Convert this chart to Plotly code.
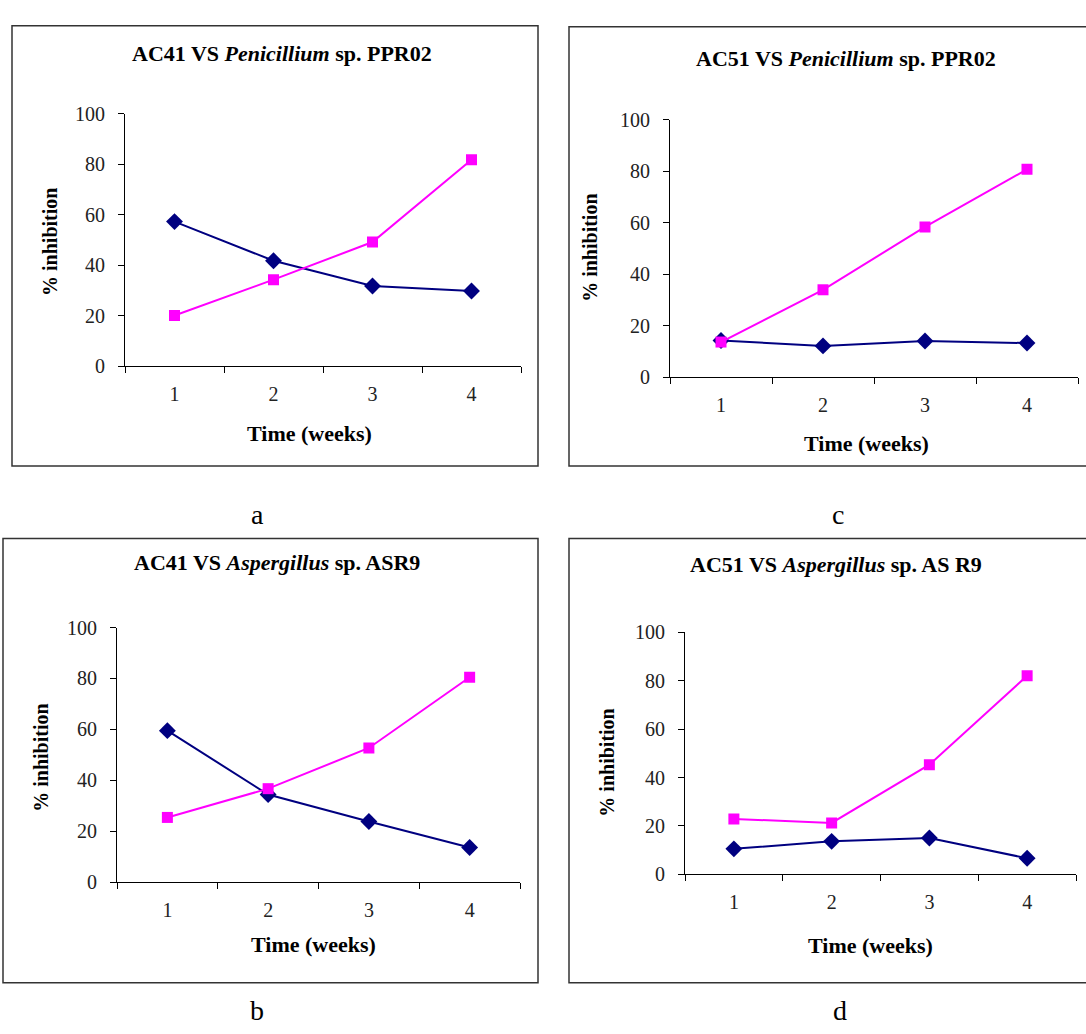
import plotly.graph_objects as go

# ---------------- data ----------------
weeks = ["1", "2", "3", "4"]

a_blue = [57.3, 41.8, 31.8, 29.8]
a_pink = [20.1, 34.3, 49.2, 81.8]

b_blue = [59.5, 34.4, 23.8, 13.6]
b_pink = [25.4, 36.7, 52.7, 80.5]

c_blue = [14.2, 12.1, 14.0, 13.2]
c_pink = [13.6, 33.9, 58.3, 80.7]

d_blue = [10.5, 13.6, 15.0, 6.6]
d_pink = [22.9, 21.2, 45.3, 82.1]

titles = {
    "a": "<b>AC41 VS <i>Penicillium</i> sp. PPR02</b>",
    "b": "<b>AC41 VS <i>Aspergillus</i> sp. ASR9</b>",
    "c": "<b>AC51 VS <i>Penicillium</i> sp. PPR02</b>",
    "d": "<b>AC51 VS <i>Aspergillus</i> sp. AS R9</b>",
}
series = {"a": (a_blue, a_pink), "b": (b_blue, b_pink),
          "c": (c_blue, c_pink), "d": (d_blue, d_pink)}
y_title = "<b>% inhibition</b>"
x_title = "<b>Time (weeks)</b>"

# ---------------- layout geometry (pixels) ----------------
W, H = 1086, 1034
geo = {
    "a": dict(box=(12, 15, 538, 465), plot=(125, 105, 521, 363),
              title=(282, 43), ytitle=(50, 236), xtitle=(309, 432), label=(257, 514)),
    "b": dict(box=(3, 539, 538, 993), plot=(117, 630, 520, 890),
              title=(277, 563), ytitle=(41, 763), xtitle=(313, 954), label=(257, 1021)),
    "c": dict(box=(569, 16, 1095, 465), plot=(670, 111, 1078, 374),
              title=(846, 49), ytitle=(590, 242), xtitle=(866, 442), label=(838, 514)),
    "d": dict(box=(569, 539, 1095, 993), plot=(685, 635, 1076, 882),
              title=(836, 566), ytitle=(607, 768), xtitle=(870, 955), label=(840, 1021)),
}

SERIF = "Liberation Serif, Times New Roman, serif"
NAVY = "#000080"
MAGENTA = "#FF00FF"


def fx(x):
    return x / W


def fy(y):
    return 1 - y / H


fig = go.Figure()
layout = dict(width=W, height=H, margin=dict(l=0, r=0, t=0, b=0),
              paper_bgcolor="white", plot_bgcolor="white", showlegend=False)
annotations = []
shapes = []

for i, key in enumerate(["a", "b", "c", "d"]):
    g = geo[key]
    n = "" if i == 0 else str(i + 1)
    blue, pink = series[key]
    fig.add_trace(go.Scatter(x=weeks, y=blue, mode="lines+markers",
                             xaxis="x" + n, yaxis="y" + n,
                             line=dict(color=NAVY, width=2),
                             marker=dict(symbol="diamond", size=13, color=NAVY)))
    fig.add_trace(go.Scatter(x=weeks, y=pink, mode="lines+markers",
                             xaxis="x" + n, yaxis="y" + n,
                             line=dict(color=MAGENTA, width=2),
                             marker=dict(symbol="square", size=11, color=MAGENTA)))
    x0, y0, x1, y1 = g["plot"]
    layout["xaxis" + n] = dict(
        domain=[fx(x0), fx(x1)], anchor="y" + n, type="category",
        categoryorder="array", categoryarray=weeks, range=[-0.5, 3.5],
        tickson="boundaries", ticks="outside", ticklen=6, tickwidth=1,
        tickcolor="black", showline=True, linecolor="black", linewidth=1,
        showgrid=False, zeroline=False, ticklabelstandoff=10,
        tickfont=dict(family=SERIF, size=20, color="#222"))
    layout["yaxis" + n] = dict(
        domain=[fy(y1), fy(y0)], anchor="x" + n, range=[0, 100], dtick=20,
        ticks="outside", ticklen=6, tickwidth=1, tickcolor="black",
        showline=True, linecolor="black", linewidth=1, showgrid=False,
        zeroline=False, ticklabelstandoff=9,
        tickfont=dict(family=SERIF, size=20, color="#222"))
    bx0, by0, bx1, by1 = g["box"]
    shapes.append(dict(type="rect", xref="paper", yref="paper",
                       x0=fx(bx0), x1=fx(bx1), y0=fy(by1), y1=fy(by0),
                       line=dict(color="#333", width=1.5), layer="below"))
    tx, ty = g["title"]
    annotations.append(dict(text=titles[key], x=fx(tx), y=fy(ty), xref="paper",
                            yref="paper", showarrow=False, xanchor="center",
                            yanchor="middle", font=dict(family=SERIF, size=22, color="black")))
    ax_, ay_ = g["ytitle"]
    annotations.append(dict(text=y_title, x=fx(ax_), y=fy(ay_), xref="paper",
                            yref="paper", showarrow=False, textangle=-90,
                            xanchor="center", yanchor="middle",
                            font=dict(family=SERIF, size=20, color="black")))
    xx, xy = g["xtitle"]
    annotations.append(dict(text=x_title, x=fx(xx), y=fy(xy), xref="paper",
                            yref="paper", showarrow=False, xanchor="center",
                            yanchor="middle", font=dict(family=SERIF, size=22, color="black")))
    lx, ly = g["label"]
    annotations.append(dict(text=key, x=fx(lx), y=fy(ly), xref="paper",
                            yref="paper", showarrow=False, xanchor="center",
                            yanchor="middle", font=dict(family=SERIF, size=28, color="black")))

layout["annotations"] = annotations
layout["shapes"] = shapes
fig.update_layout(**layout)
fig.write_html("out.html")
